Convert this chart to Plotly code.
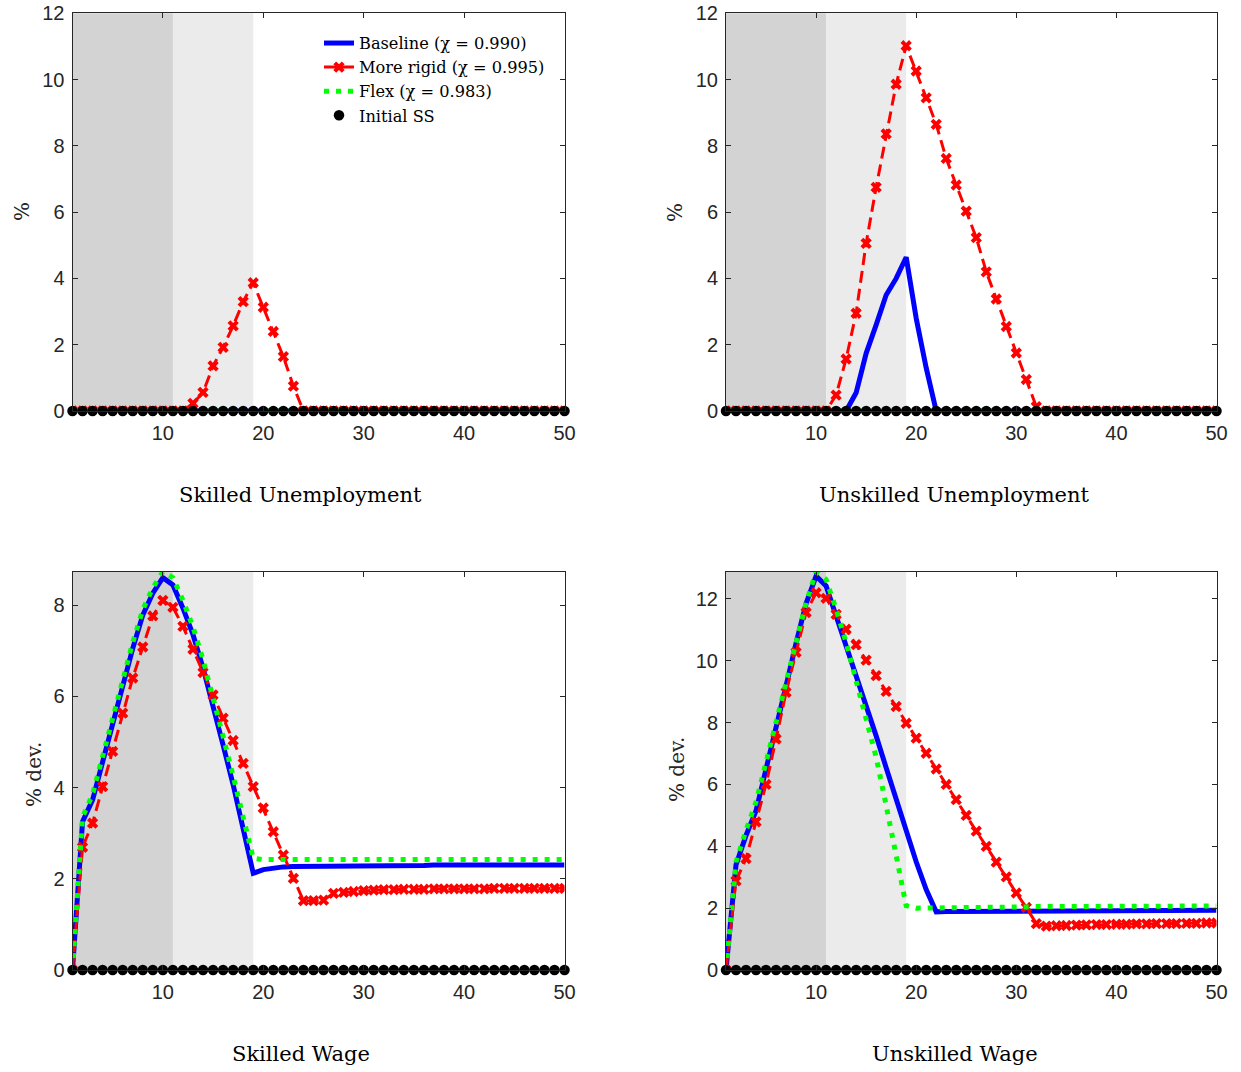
import plotly.graph_objects as go

W, H = 1241, 1072
periods = list(range(1, 51))

# ---------------- data ----------------
init_ss = [0.0] * 50

# Skilled Unemployment
su_base = [0.0] * 50
su_flex = [0.0] * 50
su_rigid = [0, 0, 0, 0, 0, 0, 0, 0, 0, 0, 0, 0,
            0.23, 0.56, 1.36, 1.92, 2.57, 3.30, 3.87, 3.13, 2.40, 1.64, 0.75,
            0, 0, 0, 0, 0, 0, 0, 0, 0, 0, 0, 0, 0, 0, 0, 0, 0, 0, 0, 0, 0, 0, 0, 0, 0, 0, 0]

# Unskilled Unemployment
uu_base = [0, 0, 0, 0, 0, 0, 0, 0, 0, 0, 0, 0, 0,
           0.55, 1.74, 2.60, 3.50, 4.00, 4.64, 2.80, 1.30,
           0, 0, 0, 0, 0, 0, 0, 0, 0, 0, 0, 0, 0, 0, 0, 0, 0, 0, 0, 0, 0, 0, 0, 0, 0, 0, 0, 0, 0]
uu_flex = [0.0] * 50
uu_rigid = [0, 0, 0, 0, 0, 0, 0, 0, 0, 0, 0,
            0.48, 1.57, 2.95, 5.06, 6.75, 8.36, 9.86, 11.02, 10.26, 9.45, 8.65,
            7.62, 6.82, 6.03, 5.23, 4.20, 3.38, 2.55, 1.75, 0.95, 0.13,
            0, 0, 0, 0, 0, 0, 0, 0, 0, 0, 0, 0, 0, 0, 0, 0, 0, 0]

# Skilled Wage
sw_base = [0, 3.25, 3.73, 4.57, 5.45, 6.25, 7.05, 7.78, 8.26, 8.60,
           8.44, 7.93, 7.35, 6.62, 5.81, 4.93, 4.06, 3.11, 2.12, 2.20,
           2.24, 2.26, 2.27, 2.27, 2.28, 2.28, 2.28, 2.28, 2.29, 2.29,
           2.29, 2.29, 2.29, 2.29, 2.29, 2.29, 2.30, 2.30, 2.30, 2.30,
           2.30, 2.30, 2.30, 2.30, 2.30, 2.30, 2.30, 2.30, 2.30, 2.30]
sw_rigid = [0, 2.69, 3.22, 4.02, 4.79, 5.63, 6.40, 7.08, 7.76, 8.10,
            7.95, 7.53, 7.03, 6.52, 6.03, 5.52, 5.03, 4.53, 4.02, 3.55,
            3.03, 2.52, 2.01, 1.52, 1.52, 1.53, 1.68, 1.70, 1.72, 1.74,
            1.75, 1.76, 1.76, 1.77, 1.77, 1.77, 1.78, 1.78, 1.78, 1.78,
            1.78, 1.78, 1.79, 1.79, 1.79, 1.79, 1.79, 1.79, 1.79, 1.79]
sw_flex = [0, 3.35, 3.85, 4.70, 5.58, 6.38, 7.18, 7.90, 8.38, 8.73,
           8.60, 8.10, 7.52, 6.80, 6.00, 5.12, 4.25, 3.32, 2.45, 2.42,
           2.42, 2.42, 2.42, 2.42, 2.42, 2.42, 2.42, 2.42, 2.42, 2.42,
           2.42, 2.42, 2.42, 2.42, 2.42, 2.42, 2.42, 2.42, 2.42, 2.42,
           2.42, 2.42, 2.42, 2.42, 2.42, 2.42, 2.42, 2.42, 2.42, 2.42]

# Unskilled Wage
uw_base = [0, 3.40, 4.35, 5.15, 6.50, 7.80, 9.19, 10.57, 11.85, 12.74,
           12.42, 11.45, 10.48, 9.62, 8.60, 7.57, 6.54, 5.50, 4.50, 3.50,
           2.60, 1.88, 1.89, 1.89, 1.90, 1.90, 1.90, 1.91, 1.91, 1.91,
           1.91, 1.92, 1.92, 1.92, 1.92, 1.92, 1.92, 1.93, 1.93, 1.93,
           1.93, 1.93, 1.93, 1.93, 1.93, 1.93, 1.93, 1.93, 1.93, 1.93]
uw_rigid = [0, 2.88, 3.60, 4.79, 6.00, 7.47, 8.98, 10.27, 11.56, 12.20,
            12.02, 11.50, 11.02, 10.52, 10.02, 9.52, 9.01, 8.52, 7.98, 7.50,
            7.01, 6.50, 6.00, 5.51, 5.00, 4.49, 4.00, 3.49, 3.01, 2.49,
            2.02, 1.50, 1.42, 1.43, 1.44, 1.45, 1.46, 1.47, 1.47, 1.48,
            1.48, 1.49, 1.49, 1.50, 1.50, 1.50, 1.51, 1.51, 1.52, 1.52]
uw_flex = [0, 3.49, 4.52, 5.43, 6.72, 8.01, 9.30, 10.59, 11.88, 12.87,
           12.63, 11.67, 10.59, 9.35, 8.12, 6.88, 5.32, 3.71, 2.08, 2.00,
           2.00, 2.01, 2.01, 2.02, 2.02, 2.03, 2.03, 2.03, 2.04, 2.04,
           2.04, 2.05, 2.05, 2.05, 2.05, 2.06, 2.06, 2.06, 2.06, 2.06,
           2.07, 2.07, 2.07, 2.07, 2.07, 2.07, 2.07, 2.07, 2.07, 2.07]

panel_titles = ["Skilled Unemployment", "Unskilled Unemployment", "Skilled Wage", "Unskilled Wage"]
ylabels = ["%", "%", "% dev.", "% dev."]
series_names = ["Baseline (\u03c7 = 0.990)", "More rigid (\u03c7 = 0.995)", "Flex (\u03c7 = 0.983)", "Initial SS"]
yranges = [[0, 12], [0, 12], [0, 8.73], [0, 12.88]]
ytickvals = [[0, 2, 4, 6, 8, 10, 12], [0, 2, 4, 6, 8, 10, 12], [0, 2, 4, 6, 8], [0, 2, 4, 6, 8, 10, 12]]
xtickvals = [10, 20, 30, 40, 50]
shade_dark = [1, 11]
shade_light = [11, 19]

panels = [
    (su_base, su_rigid, su_flex),
    (uu_base, uu_rigid, uu_flex),
    (sw_base, sw_rigid, sw_flex),
    (uw_base, uw_rigid, uw_flex),
]

# ---------------- layout geometry (pixels) ----------------
xdom_px = [(72.5, 564.5), (726, 1216.5), (72.5, 564.5), (726, 1216.5)]
ydom_px = [(13.3, 411), (13.3, 411), (571.7, 970), (571.7, 970)]

fig = go.Figure()

for i, (base, rigid, flex) in enumerate(panels):
    xa = "x" if i == 0 else f"x{i+1}"
    ya = "y" if i == 0 else f"y{i+1}"
    show = i == 0
    fig.add_trace(go.Scatter(x=periods, y=base, mode="lines", name=series_names[0],
                             line=dict(color="#0000ff", width=5), xaxis=xa, yaxis=ya,
                             showlegend=show, legendgroup="b"))
    fig.add_trace(go.Scatter(x=periods, y=rigid, mode="lines+markers", name=series_names[1],
                             line=dict(color="#ff0000", width=3, dash="12px,6px"),
                             marker=dict(symbol="x", size=10, color="#ff0000", line=dict(width=0)),
                             xaxis=xa, yaxis=ya, showlegend=show, legendgroup="r"))
    fig.add_trace(go.Scatter(x=periods, y=flex, mode="lines", name=series_names[2],
                             line=dict(color="#00ff00", width=5, dash="5px,7px"),
                             xaxis=xa, yaxis=ya, showlegend=show, legendgroup="g"))
    fig.add_trace(go.Scatter(x=periods, y=init_ss, mode="markers", name=series_names[3],
                             marker=dict(symbol="circle", size=10.5, color="#000000", line=dict(width=0)),
                             cliponaxis=False, xaxis=xa, yaxis=ya, showlegend=show, legendgroup="k"))

axis_common = dict(showline=True, linecolor="#262626", linewidth=1, mirror="ticks",
                   ticks="inside", ticklen=5, tickwidth=1, tickcolor="#262626",
                   showgrid=False, zeroline=False, automargin=False,
                   tickfont=dict(family="Liberation Sans, Arial, sans-serif", size=20, color="#262626"))

layout = dict(width=W, height=H, margin=dict(l=0, r=0, t=0, b=0, pad=0, autoexpand=False),
              paper_bgcolor="white", plot_bgcolor="white")

shapes = []
annotations = []
for i in range(4):
    xk = "xaxis" if i == 0 else f"xaxis{i+1}"
    yk = "yaxis" if i == 0 else f"yaxis{i+1}"
    xr = "x" if i == 0 else f"x{i+1}"
    yr = "y" if i == 0 else f"y{i+1}"
    x0, x1 = xdom_px[i]
    y0, y1 = ydom_px[i]
    layout[xk] = dict(axis_common, domain=[x0 / W, x1 / W], range=[1, 50],
                      tickvals=xtickvals, anchor=yr, ticklabelstandoff=4)
    layout[yk] = dict(axis_common, domain=[1 - y1 / H, 1 - y0 / H], range=yranges[i],
                      tickvals=ytickvals[i], anchor=xr, ticklabelstandoff=3)
    shapes.append(dict(type="rect", xref=xr, yref=f"{yr} domain", x0=shade_dark[0], x1=shade_dark[1],
                       y0=0, y1=1, fillcolor="#d3d3d3", line=dict(width=0), layer="below"))
    shapes.append(dict(type="rect", xref=xr, yref=f"{yr} domain", x0=shade_light[0], x1=shade_light[1],
                       y0=0, y1=1, fillcolor="#ebebeb", line=dict(width=0), layer="below"))

title_pos = [(300, 495), (954, 495), (301, 1054), (955, 1054)]
ylab_pos = [(22, 212), (675, 212), (34, 775), (677, 770)]
for i in range(4):
    tx, ty = title_pos[i]
    annotations.append(dict(text=panel_titles[i], x=tx / W, y=1 - ty / H, xref="paper", yref="paper",
                            xanchor="center", yanchor="middle", showarrow=False,
                            font=dict(family="DejaVu Serif, serif", size=21, color="#000000")))
    lx, ly = ylab_pos[i]
    annotations.append(dict(text=ylabels[i], x=lx / W, y=1 - ly / H, xref="paper", yref="paper",
                            xanchor="center", yanchor="middle", showarrow=False, textangle=-90,
                            font=dict(family="DejaVu Serif, serif", size=20, color="#262626")))

layout["shapes"] = shapes
layout["annotations"] = annotations
layout["legend"] = dict(x=319 / W, y=1 - 26 / H, xanchor="left", yanchor="top",
                        bgcolor="rgba(0,0,0,0)", borderwidth=0, itemwidth=30, tracegroupgap=0,
                        font=dict(family="DejaVu Serif, serif", size=16.2, color="#000000"))
layout["showlegend"] = True

fig.update_layout(**layout)

fig.write_html("out.html", config={"displayModeBar": False},
               post_script="document.body.style.margin='0';document.body.style.overflow='hidden';")
